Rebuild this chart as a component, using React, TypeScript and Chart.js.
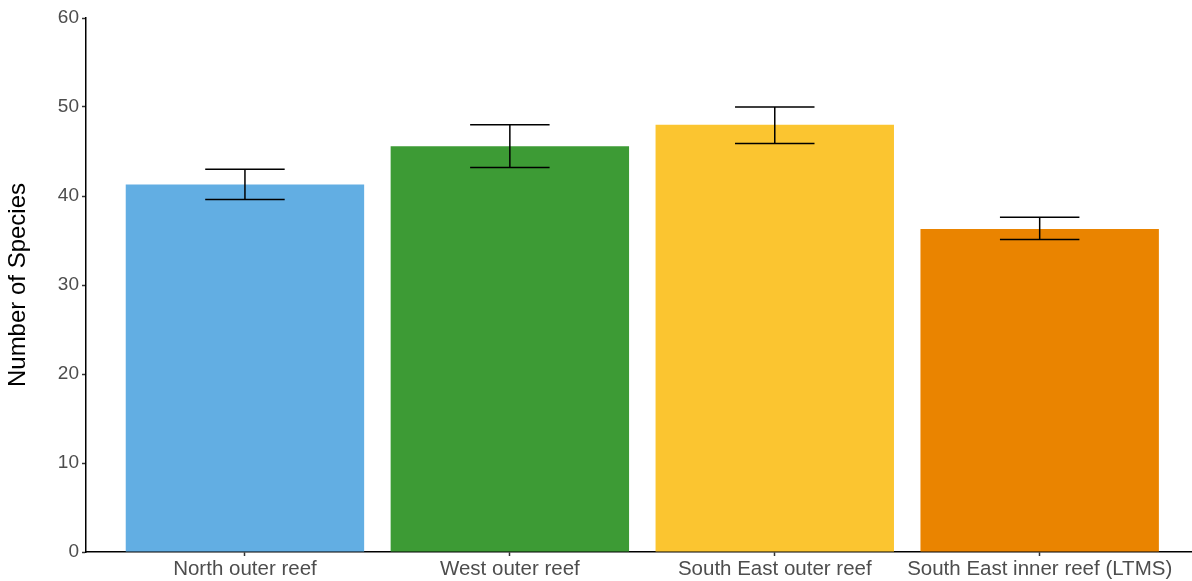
import React, { useEffect, useRef } from "react";
import { Chart, registerables } from "chart.js";

Chart.register(...registerables);

const categories = [
  "North outer reef",
  "West outer reef",
  "South East outer reef",
  "South East inner reef (LTMS)",
];
const means = [41.3, 45.6, 48.0, 36.3];
const errLow = [39.6, 43.2, 45.9, 35.1];
const errHigh = [43.0, 48.0, 50.0, 37.6];
const colors = ["#62aee3", "#3d9b35", "#fbc530", "#ea8400"];
const yTicks = [0, 10, 20, 30, 40, 50, 60];

const FONT = "'Liberation Sans', Arial, sans-serif";

const errorBarPlugin = {
  id: "errorBars",
  afterDatasetsDraw(chart: any) {
    const { ctx, scales } = chart;
    const x = scales.x;
    const y = scales.y;
    ctx.save();
    ctx.strokeStyle = "#000000";
    ctx.lineWidth = 1.5;
    for (let i = 0; i < categories.length; i++) {
      const cx = x.getPixelForValue(i + 1);
      const left = x.getPixelForValue(i + 1 - 0.15);
      const right = x.getPixelForValue(i + 1 + 0.15);
      const top = y.getPixelForValue(errHigh[i]);
      const bot = y.getPixelForValue(errLow[i]);
      ctx.beginPath();
      ctx.moveTo(cx, top);
      ctx.lineTo(cx, bot);
      ctx.moveTo(left, top);
      ctx.lineTo(right, top);
      ctx.moveTo(left, bot);
      ctx.lineTo(right, bot);
      ctx.stroke();
    }
    ctx.restore();
  },
};

export default function App() {
  const ref = useRef<HTMLCanvasElement | null>(null);

  useEffect(() => {
    document.body.style.margin = "0";
    const canvas = ref.current;
    if (!canvas) return;
    const chart = new Chart(canvas, {
      type: "bar",
      data: {
        datasets: [
          {
            data: categories.map((_, i) => ({ x: i + 1, y: means[i] })),
            backgroundColor: colors,
            borderWidth: 0,
            barPercentage: 0.9,
            categoryPercentage: 1,
          },
        ],
      },
      options: {
        animation: false,
        responsive: false,
        maintainAspectRatio: false,
        layout: { padding: { top: 18, right: 0, left: 0, bottom: 0 } },
        plugins: {
          legend: { display: false },
          tooltip: { enabled: false },
        },
        scales: {
          x: {
            type: "linear",
            min: 0.4,
            max: 4.575,
            offset: false,
            afterBuildTicks: (scale: any) => {
              scale.ticks = categories.map((_, i) => ({ value: i + 1 }));
            },
            afterFit: (scale: any) => {
              scale.height = 29;
            },
            grid: {
              offset: false,
              drawOnChartArea: false,
              drawTicks: true,
              tickLength: 4,
              tickColor: "#333333",
              tickWidth: 1.5,
            },
            border: { display: true, color: "#000000", width: 1.5 },
            ticks: {
              autoSkip: false,
              maxRotation: 0,
              padding: 1,
              color: "#4d4d4d",
              font: { family: FONT, size: 20.5 },
              callback: (v: any) => categories[Number(v) - 1] ?? "",
            },
          },
          y: {
            min: 0,
            max: 60,
            afterBuildTicks: (scale: any) => {
              scale.ticks = yTicks.map((v) => ({ value: v }));
            },
            afterFit: (scale: any) => {
              scale.width = 86;
            },
            grid: {
              drawOnChartArea: false,
              drawTicks: true,
              tickLength: 4,
              tickColor: "#333333",
              tickWidth: 1.5,
            },
            border: { display: true, color: "#000000", width: 1.5 },
            ticks: {
              padding: 3,
              color: "#4d4d4d",
              font: { family: FONT, size: 19 },
            },
            title: {
              display: true,
              text: "Number of Species",
              color: "#000000",
              font: { family: FONT, size: 24 },
              padding: { top: 4, bottom: 0 },
            },
          },
        },
      },
      plugins: [errorBarPlugin],
    } as any);
    return () => chart.destroy();
  }, []);

  return (
    <div style={{ width: 1192, height: 581 }}>
      <canvas ref={ref} width={1192} height={581} style={{ display: "block" }} />
    </div>
  );
}
